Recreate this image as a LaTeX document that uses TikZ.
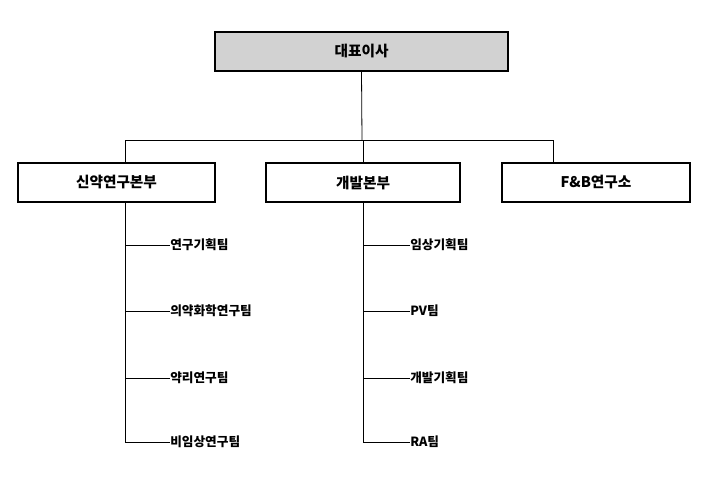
\documentclass[tikz,border=0pt]{standalone}
\usepackage{fontspec}
\newfontfamily\kr{Noto Sans CJK KR}
\begin{document}
\begin{tikzpicture}[x=0.75pt,y=-0.75pt,
 box/.style={draw,line width=1.2pt,minimum height=29.5pt,font=\kr\bfseries\fontsize{11}{12}\selectfont,inner sep=0pt},
 lab/.style={anchor=west,font=\kr\bfseries\fontsize{9.5}{10}\selectfont,inner sep=0pt},
 ln/.style={line width=0.6pt}]
\useasboundingbox (0,0) rectangle (709,497);
\node[box,fill=gray!35,minimum width=219.75pt] (ceo) at (361.5,51.5) {대표이사};
\node[box,minimum width=147.75pt] (a) at (116.5,182.5) {신약연구본부};
\node[box,minimum width=145.5pt] (b) at (363,182.5) {개발본부};
\node[box,minimum width=141pt] (c) at (596,182.5) {F\&B연구소};
\coordinate (j) at (362,140);
\draw[ln] (ceo.south) -- (j);
\draw[ln] (a.north -| 125,0) -- (125,140) -- (553,140) -- (c.north -| 553,0);
\draw[ln] (b.north) -- (b.north |- j);
\foreach \y/\t/\n in {245/연구기획팀/a1,311/의약화학연구팀/a2,378/약리연구팀/a3,442/비임상연구팀/a4}
  {\node[lab] (\n) at (170,\y) {\t}; \draw[ln] (125,\y) -- (\n.west);}
\draw[ln] (a.south -| 125,0) -- (125,442);
\foreach \y/\t/\n in {245/임상기획팀/b1,311/PV팀/b2,378/개발기획팀/b3,442/RA팀/b4}
  {\node[lab] (\n) at (410,\y) {\t}; \draw[ln] (363,\y) -- (\n.west);}
\draw[ln] (b.south) -- (363,442);
\end{tikzpicture}
\end{document}
